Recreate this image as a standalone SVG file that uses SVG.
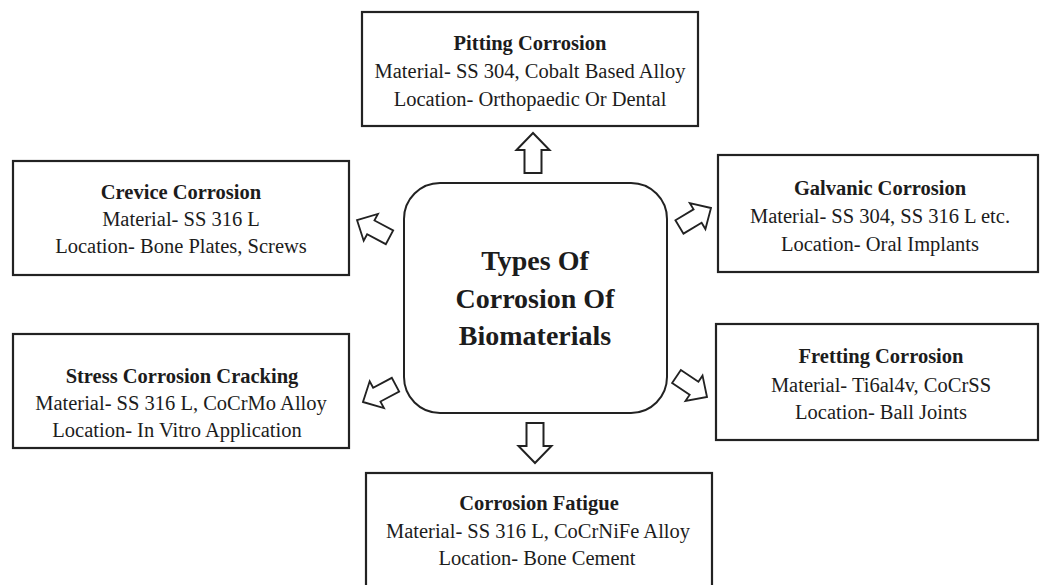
<svg xmlns="http://www.w3.org/2000/svg" xmlns:xlink="http://www.w3.org/1999/xlink" width="1042" height="585" viewBox="0 0 1042 585">
<style>
.box{fill:#fff;stroke:#222;stroke-width:2.2}
.center{fill:#fff;stroke:#222;stroke-width:2}
.t{font-family:"Liberation Serif","Times New Roman",serif;font-size:20.5px;fill:#1c1c1c;text-anchor:middle}
.b{font-weight:bold}
.big{font-family:"Liberation Serif","Times New Roman",serif;font-size:28px;font-weight:bold;fill:#1c1c1c;text-anchor:middle}
.arrow{fill:#fff;stroke:#222;stroke-width:2;stroke-linejoin:miter;vector-effect:non-scaling-stroke}
</style>
<defs>
<path id="arr" d="M0,0 L-17,-16.5 L-17,-8.5 L-40,-8.5 L-40,8.5 L-17,8.5 L-17,16.5 Z"/>
</defs>
<rect width="1042" height="585" fill="#fff"/>
<g id="connectors">
<use xlink:href="#arr" class="arrow" transform="translate(533,133) rotate(-90)"/>
<use xlink:href="#arr" class="arrow" transform="translate(535,463) rotate(90)"/>
<use xlink:href="#arr" class="arrow" transform="translate(357,220) rotate(208) scale(0.92)"/>
<use xlink:href="#arr" class="arrow" transform="translate(711,208) rotate(-31) scale(0.92)"/>
<use xlink:href="#arr" class="arrow" transform="translate(363,402) rotate(152) scale(0.92)"/>
<use xlink:href="#arr" class="arrow" transform="translate(707,397) rotate(34) scale(0.92)"/>
</g>
<g id="center-node">
<rect class="center" x="404" y="183" width="263" height="230" rx="36" ry="36"/>
<text class="big" x="535" y="270">Types Of</text>
<text class="big" x="535" y="308">Corrosion Of</text>
<text class="big" x="535" y="345">Biomaterials</text>
</g>
<g id="pitting">
<rect class="box" x="362" y="12" width="336" height="114"/>
<text class="t b" x="530" y="50">Pitting Corrosion</text>
<text class="t" x="530" y="78">Material- SS 304, Cobalt Based Alloy</text>
<text class="t" x="530" y="106">Location- Orthopaedic Or Dental</text>
</g>
<g id="crevice">
<rect class="box" x="13" y="161" width="336" height="114"/>
<text class="t b" x="181" y="199">Crevice Corrosion</text>
<text class="t" x="181" y="226">Material- SS 316 L</text>
<text class="t" x="181" y="253">Location- Bone Plates, Screws</text>
</g>
<g id="galvanic">
<rect class="box" x="718" y="155" width="320" height="117"/>
<text class="t b" x="880" y="195">Galvanic Corrosion</text>
<text class="t" x="880" y="223">Material- SS 304, SS 316 L etc.</text>
<text class="t" x="880" y="251">Location- Oral Implants</text>
</g>
<g id="stress">
<rect class="box" x="13" y="334" width="336" height="114"/>
<text class="t b" x="182" y="383">Stress Corrosion Cracking</text>
<text class="t" x="181" y="410">Material- SS 316 L, CoCrMo Alloy</text>
<text class="t" x="177" y="437">Location- In Vitro Application</text>
</g>
<g id="fretting">
<rect class="box" x="716" y="324" width="322" height="116"/>
<text class="t b" x="881" y="363">Fretting Corrosion</text>
<text class="t" x="881" y="392">Material- Ti6al4v, CoCrSS</text>
<text class="t" x="881" y="419">Location- Ball Joints</text>
</g>
<g id="fatigue">
<rect class="box" x="366" y="473" width="346" height="120"/>
<text class="t b" x="539" y="510">Corrosion Fatigue</text>
<text class="t" x="538" y="538">Material- SS 316 L, CoCrNiFe Alloy</text>
<text class="t" x="537" y="565">Location- Bone Cement</text>
</g>
</svg>
